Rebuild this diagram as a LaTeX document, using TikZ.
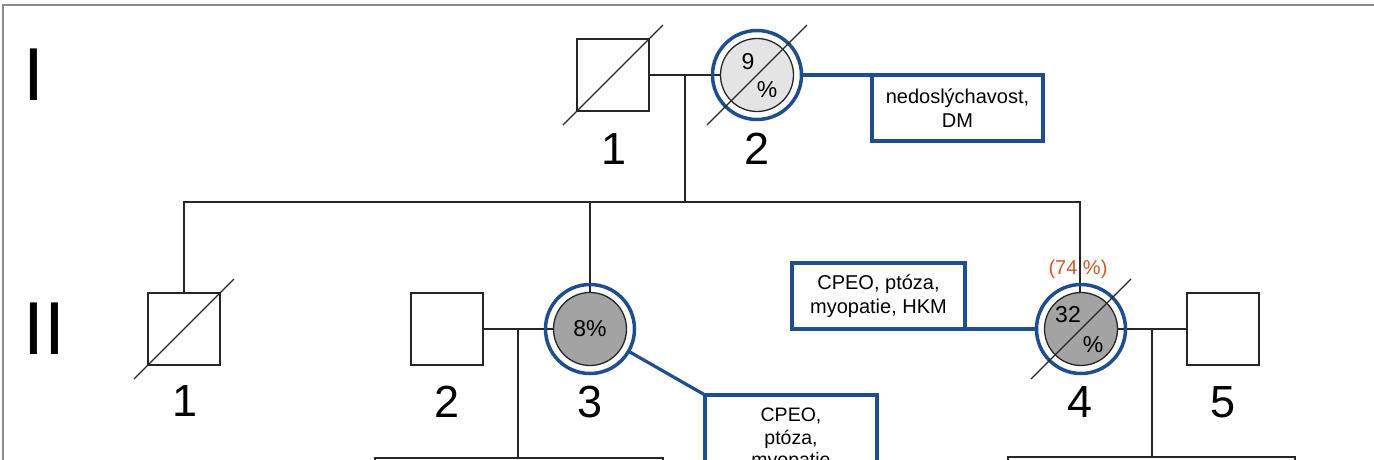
\documentclass[tikz,border=0pt]{standalone}
\usepackage{fontspec}
\setmainfont{Liberation Sans}
\usetikzlibrary{calc,backgrounds}
\definecolor{ringblue}{HTML}{1F4E8F}
\definecolor{lightfill}{HTML}{E4E4E4}
\definecolor{midfill}{HTML}{A3A3A3}
\definecolor{noteorange}{HTML}{D2582E}
\definecolor{framegray}{HTML}{8A8A8A}
\tikzset{
  male/.style={draw=black!85, line width=1.4, minimum size=72, inner sep=0, outer sep=0, rectangle},
  female/.style={draw=black!85, line width=1.3, minimum size=73, inner sep=0, outer sep=0, circle},
  ring/.style={draw=ringblue, line width=3.5, minimum size=89, inner sep=0, outer sep=0, circle},
  rel/.style={draw=black!85, line width=1.4},
  blueline/.style={draw=ringblue, line width=3.2},
  notebox/.style={draw=ringblue, line width=3.2, rectangle, inner sep=0, outer sep=0, fill=white},
  notetext/.style={align=center, inner sep=0, font=\fontsize{20}{24.5}\selectfont},
  gen/.style={inner sep=0, font=\fontsize{75}{80}\selectfont},
  idx/.style={inner sep=0, font=\fontsize{45}{50}\selectfont},
  pct/.style={inner sep=0, font=\fontsize{23}{26}\selectfont},
  slash/.style={draw=black!85, line width=1.3}
}
\begin{document}
\begin{tikzpicture}[x=1pt,y=-1pt]
\useasboundingbox (0,0) rectangle (1374,459);
\clip (0,0) rectangle (1374,459);

% generation numerals
\node[gen] (genI) at (34,75) {I};
\node[gen] (genII) at (44,329) {II};

% ---------- generation I ----------
\node[male] (i1) at (613,75) {};
\node[ring] (i2r) at (757,75) {};
\node[female, fill=lightfill] (i2) at (757,75) {};
\node[pct] (i2a) at (748,62) {9};
\node[pct] (i2b) at (767,90) {\%};
\node[idx] (i1n) at (614,149) {1};
\node[idx] (i2n) at (757,149) {2};
\node[notebox, anchor=north west, minimum width=171, minimum height=66] (box1) at (872,75) {};
\node[notetext] (box1t) at (box1.center) {nedoslýchavost,\\DM};

% ---------- generation II ----------
\node[male] (ii1) at (184,329) {};
\node[male] (ii2) at (447,329) {};
\node[ring] (ii3r) at (590,329) {};
\node[female, fill=midfill] (ii3) at (590,329) {};
\node[pct] (ii3a) at (590,329) {8\%};
\node[ring] (ii4r) at (1081,329) {};
\node[female, fill=midfill] (ii4) at (1081,329) {};
\node[pct] (ii4a) at (1068,315) {32};
\node[pct] (ii4b) at (1093,345) {\%};
\node[male] (ii5) at (1223,329) {};
\node[idx] (ii1n) at (185,401) {1};
\node[idx] (ii2n) at (447,402) {2};
\node[idx] (ii3n) at (590,402) {3};
\node[idx] (ii4n) at (1080,402) {4};
\node[idx] (ii5n) at (1223,402) {5};
\node[inner sep=0, text=noteorange, font=\fontsize{20}{24}\selectfont] (ii4h) at (1078,269) {(74 \%)};

\node[notebox, anchor=north west, minimum width=173, minimum height=66] (box4) at (792,263) {};
\node[notetext] (box4t) at (box4.center) {CPEO, ptóza,\\myopatie, HKM};
\node[notebox, anchor=north west, minimum width=172, minimum height=100] (box3) at (705,395) {};
\node[notetext, anchor=north, font=\fontsize{19.5}{22.5}\selectfont] (box3t) at ($(box3.north)+(0,13)$) {CPEO,\\ptóza,\\myopatie};

% deceased marks
\draw[slash] ($(i1)+(-50,50)$) -- ($(i1)+(50,-50)$);
\draw[slash] ($(i2)+(-50,50)$) -- ($(i2)+(50,-50)$);
\draw[slash] ($(ii1)+(-50,50)$) -- ($(ii1)+(50,-50)$);
\draw[slash] ($(ii4)+(-50,50)$) -- ($(ii4)+(50,-50)$);

% outer frame (left and top edges)
\draw[framegray, line width=2] (3,470) -- (3,5) -- (1380,5);

% ---------- connectors ----------
\begin{scope}[on background layer]
  \fill[white] (0,0) rectangle (1374,459);
  \coordinate (m1) at (685,75);
  \coordinate (s1) at (685,202);
  \coordinate (s1L) at (184,202);
  \coordinate (s1R) at (1080,202);
  \draw[rel] (i1.east) -- (i2.west);
  \draw[rel] (m1) -- (s1);
  \draw[rel] (ii1.north) -- (s1L) -- (s1R) -- (ii4.north -| s1R);
  \draw[rel] (ii3.north) -- (ii3.north |- s1L);

  \coordinate (m2) at (518,329);
  \coordinate (s2) at (518,458);
  \coordinate (s2L) at (375,458);
  \coordinate (s2R) at (663,458);
  \draw[rel] (ii2.east) -- (ii3.west);
  \draw[rel] (m2) -- (s2);
  \draw[rel] ($(s2L)+(0,20)$) -- (s2L) -- (s2R) -- ($(s2R)+(0,20)$);

  \coordinate (m3) at (1152,329);
  \coordinate (s3) at (1152,457);
  \coordinate (s3L) at (1008,457);
  \coordinate (s3R) at (1295,457);
  \draw[rel] (ii4.east) -- (ii5.west);
  \draw[rel] (m3) -- (s3);
  \draw[rel] ($(s3L)+(0,20)$) -- (s3L) -- (s3R) -- ($(s3R)+(0,20)$);

  \draw[blueline] (i2r.east) -- (box1.north west);
  \draw[blueline] (ii3r.-30) -- (box3.north west);
  \draw[blueline] (box4.south east) -- (ii4r.west);
\end{scope}
\end{tikzpicture}
\end{document}
